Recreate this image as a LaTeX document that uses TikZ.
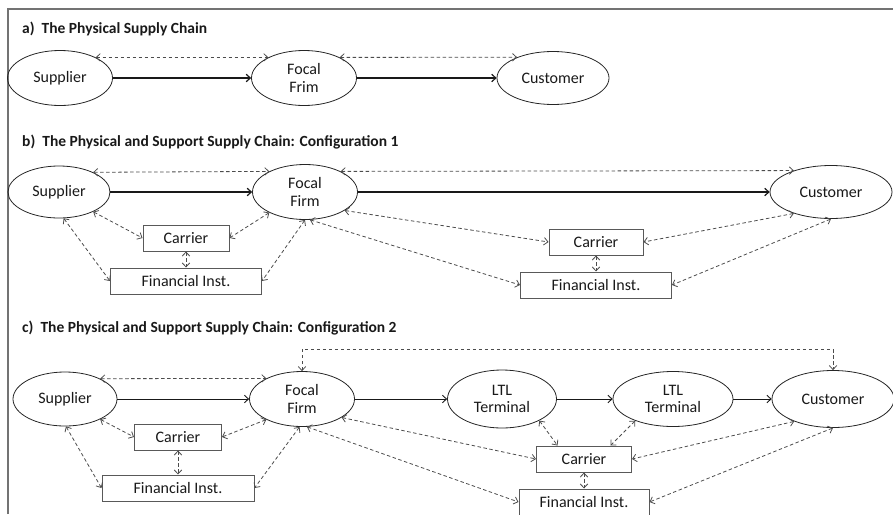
\documentclass[tikz,border=0pt]{standalone}
\usepackage{fontspec}
\setmainfont{Carlito}
\usetikzlibrary{arrows.meta,positioning,shapes.geometric}

\begin{document}
\begin{tikzpicture}[x=1pt,y=1pt,>={Straight Barb[length=4pt,width=7.5pt]},font=\fontsize{16}{17.5}\selectfont]
		\tikzstyle{party}=[ellipse,draw=black!85,line width=0.8pt,text=black!90,align=center,inner sep=0pt,minimum width=105pt,minimum height=55pt]
		\tikzstyle{support}=[rectangle,draw=black!65,line width=1pt,text=black!90,inner sep=0pt,minimum width=86pt,minimum height=26pt]
		\tikzstyle{bank}=[support,minimum width=151pt]
		\tikzstyle{heading}=[anchor=base west,inner sep=0pt,font=\fontsize{15.5}{17}\selectfont\bfseries,text=black!90]
		\tikzstyle{flow}=[->,draw=black!90,line width=1.2pt]
		\tikzstyle{link}=[<->,draw=black!70,line width=0.8pt,dash pattern=on 3.5pt off 2.5pt]
		\useasboundingbox (0,0) rectangle (893,-514);
		\draw[black!55,line width=1.3pt] (8,-514) -- (8,-9) -- (893,-9);

		% a) physical chain only
		\node[heading]  (ta) at (22,-33)                                                        {a)\ \ The Physical Supply Chain};
		\node[party]    (s1) at (60,-78)                                                        {Supplier};
		\node[party]    (f1)[right of=s1, node distance=244pt]                                  {Focal\\Frim};
		\node[party]    (c1)[right of=f1, node distance=249pt, minimum width=112pt, minimum height=53pt] {Customer};
		\path
		(s1) edge[flow] (f1)
		(f1) edge[flow] (c1)
		(s1.30) edge[link] (f1.150)
		(f1.30) edge[link] (c1.150);

		% b) configuration 1
		\node[heading]  (tb) at (22,-146)                                                       {b)\ \ The Physical and Support Supply Chain: Configuration 1};
		\node[party]    (s2) at (59,-192) [minimum width=102pt, minimum height=52pt]            {Supplier};
		\node[party]    (f2)[right of=s2, node distance=246pt]                                  {Focal\\Firm};
		\node[party]    (c2)[right of=f2, node distance=526pt, minimum width=122pt, minimum height=53pt] {Customer};
		\node[support]  (k2) at (186,-238)                                                      {Carrier};
		\node[bank]     (b2)[below of=k2, node distance=43pt]                                   {Financial Inst.};
		\node[support]  (k2r) at (596,-242) [minimum width=94pt]                                {Carrier};
		\node[bank]     (b2r)[below of=k2r, node distance=43pt]                                 {Financial Inst.};
		\path
		(s2) edge[flow] (f2)
		(f2) edge[flow] (c2)
		(s2.30) edge[link] (f2.150)
		(f2.30) edge[link] (c2.150)
		(s2.-30) edge[link] (k2.west)
		(s2.-80) edge[link] (b2.west)
		(f2.-150) edge[link] (k2.east)
		(f2.-90) edge[link] (b2.east)
		(k2) edge[link] (b2)
		(f2.-25) edge[link] (k2r.west)
		(f2.-80) edge[link] (b2r.west)
		(c2.-150) edge[link] (k2r.east)
		(c2.-90) edge[link] (b2r.east)
		(k2r) edge[link] (b2r);

		% c) configuration 2
		\node[heading]  (tc) at (22,-332)                                                       {c)\ \ The Physical and Support Supply Chain: Configuration 2};
		\node[party]    (s3) at (65,-399) [minimum width=104pt, minimum height=54pt]            {Supplier};
		\node[party]    (f3)[right of=s3, node distance=237pt]                                  {Focal\\Firm};
		\node[party]    (l3)[right of=f3, node distance=200pt, minimum width=109pt, minimum height=58pt] {LTL\\Terminal};
		\node[party]    (m3)[right of=l3, node distance=171pt, minimum width=120pt]             {LTL\\Terminal};
		\node[party]    (c3)[right of=m3, node distance=160pt, minimum width=122pt, minimum height=57pt] {Customer};
		\node[support]  (k3) at (178,-437) [minimum width=87pt]                                 {Carrier};
		\node[bank]     (b3)[below of=k3, node distance=51pt, minimum width=152pt]              {Financial Inst.};
		\node[support]  (k3r) at (584,-459) [minimum width=95pt]                                {Carrier};
		\node[bank]     (b3r)[below of=k3r, node distance=43pt, minimum width=130pt]            {Financial Inst.};
		\path
		(s3) edge[flow,line width=0.9pt] (f3)
		(f3) edge[flow,line width=0.9pt] (l3)
		(l3) edge[flow,line width=0.9pt] (m3)
		(m3) edge[flow,line width=0.9pt] (c3)
		(s3.30) edge[link] (f3.150)
		(s3.-30) edge[link] (k3.west)
		(s3.-88) edge[link] (b3.west)
		(f3.-150) edge[link] (k3.east)
		(f3.-95) edge[link] (b3.east)
		(k3) edge[link] (b3)
		(f3.-25) edge[link] (k3r.west)
		(f3.-80) edge[link] (b3r.west)
		(l3.-30) edge[link] (k3r.153)
		(m3.-150) edge[link] (k3r.27)
		(c3.-150) edge[link] (k3r.east)
		(c3.-90) edge[link] (b3r.east)
		(k3r) edge[link] (b3r);
		\draw[link] (f3.north) -- ++(0,22) -| (c3.north);
	\end{tikzpicture}
\end{document}
